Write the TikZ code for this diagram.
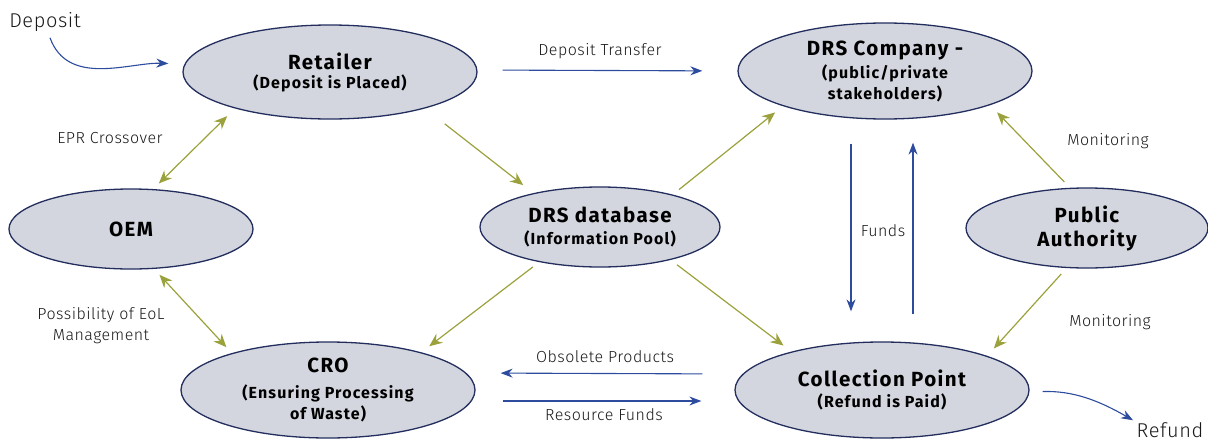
\documentclass[tikz,border=0pt]{standalone}
\usepackage{fontspec}
\setmainfont{Fira Sans}
\IfFontExistsTF{Fira Sans Light}
  {\newfontfamily\lightfont{Fira Sans Light}[LetterSpace=3]}
  {\newfontfamily\lightfont{Fira Sans}[LetterSpace=3]}
\newfontfamily\subfont{Fira Sans}[LetterSpace=7]
\usetikzlibrary{arrows.meta,shapes.geometric}
\definecolor{ellfill}{HTML}{D3D6DE}
\definecolor{ellline}{HTML}{232E5E}
\definecolor{flowblue}{HTML}{2D4C9E}
\definecolor{flowolive}{HTML}{9BA23C}
\newcommand{\bigt}{\fontsize{20.5}{24}\selectfont\bfseries}
\tikzset{
  actor/.style={ellipse, draw=ellline, fill=ellfill, line width=1.3pt, inner sep=0pt,
    align=center, text=black, font=\subfont\fontsize{16}{21}\selectfont\bfseries},
  lbl/.style={font=\lightfont\fontsize{16}{21}\selectfont, text=black!90, align=center, inner sep=0pt},
  bluearrow/.style={draw=flowblue, line width=1.1pt, -{Stealth[length=12pt,width=9pt]}},
  olivearrow/.style={draw=flowolive, line width=1.2pt, -{Stealth[length=13pt,width=11pt]}},
  olivetwo/.style={draw=flowolive, line width=1.2pt, {Stealth[length=13pt,width=11pt]}-{Stealth[length=13pt,width=11pt]}},
}
\begin{document}
\begin{tikzpicture}[x=1pt,y=-1pt]
\useasboundingbox (0,0) rectangle (1208,442);

% actors
\node[actor, minimum width=294pt, minimum height=94pt] (ret) at (330,72)
  {{\bigt Retailer}\\[-2pt](Deposit is Placed)};
\node[actor, minimum width=294pt, minimum height=96pt] (drs) at (885,71)
  {{\bigt DRS Company -}\\[2pt](public/private\\stakeholders)};
\node[actor, minimum width=244pt, minimum height=80pt] (oem) at (131,229)
  {\bigt OEM};
\node[actor, minimum width=240pt, minimum height=80pt] (db) at (600,227)
  {{\bigt DRS database}\\[1pt](Information Pool)};
\node[actor, minimum width=242pt, minimum height=80pt] (pa) at (1087,228)
  {{\bigt Public}\\[3pt]{\bigt Authority}};
\node[actor, minimum width=294pt, minimum height=96pt] (cro) at (328,390)
  {{\bigt CRO}\\[5pt](Ensuring Processing\\of Waste)};
\node[actor, minimum width=294pt, minimum height=96pt] (cp) at (882,390)
  {{\bigt Collection Point}\\[0pt](Refund is Paid)};

% free labels
\node[lbl, font=\lightfont\fontsize{20}{24}\selectfont] (deposit) at (45,22) {Deposit};
\node[lbl, font=\lightfont\fontsize{20}{24}\selectfont] (refund) at (1170,430) {Refund};
\node[lbl] (ltransfer) at (600,51) {Deposit Transfer};
\node[lbl] (lepr) at (110,138) {EPR Crossover};
\node[lbl] (leol) at (101,326) {Possibility of EoL\\Management};
\node[lbl] (lfunds) at (883,231) {Funds};
\node[lbl] (lmon1) at (1108,141) {Monitoring};
\node[lbl] (lmon2) at (1110,322) {Monitoring};
\node[lbl] (lobs) at (605,357) {Obsolete Products};
\node[lbl] (lres) at (604,415) {Resource Funds};

% money and goods flows
\coordinate (dstart) at ([xshift=5pt,yshift=-6pt]deposit.south);
\draw[bluearrow, shorten >=14pt] (dstart) to[out=-70,in=178] ([yshift=8pt]ret.west);
\draw[bluearrow, shorten <=25pt, shorten >=35pt] ([yshift=2pt]ret.east) -- (drs.west);
\draw[bluearrow] ([xshift=-34pt,yshift=-24pt]drs.south) -- ([xshift=-31pt,yshift=30pt]cp.north);
\draw[bluearrow] ([xshift=31pt,yshift=27pt]cp.north) -- ([xshift=28pt,yshift=-23pt]drs.south);
\draw[bluearrow, shorten <=32pt, shorten >=25pt] ([yshift=16pt]cp.west) -- ([yshift=17pt]cro.east);
\draw[bluearrow, shorten <=27pt, shorten >=33pt] ([yshift=-11pt]cro.east) -- ([yshift=-11pt]cp.west);
\draw[bluearrow, shorten <=13pt, shorten >=4pt] ([yshift=-2pt]cp.east) to[out=2,in=150] (refund.north west);

% information and control flows
\draw[olivetwo, shorten <=8pt, shorten >=11pt] (oem.61.5) -- (ret.201);
\draw[olivetwo, shorten <=8pt, shorten >=8pt] (oem.-60) -- (cro.159);
\draw[olivearrow, shorten <=25pt, shorten >=13pt] (ret.-21) -- (db.153);
\draw[olivearrow, shorten <=8pt, shorten >=10pt] (db.24) -- (drs.199.4);
\draw[olivearrow, shorten <=8pt, shorten >=10pt] (db.210.6) -- (cro.22.4);
\draw[olivearrow, shorten <=8pt, shorten >=10pt] (db.-25.8) -- (cp.157.9);
\draw[olivearrow, shorten <=8pt, shorten >=10pt] (pa.113) -- (drs.-18.3);
\draw[olivearrow, shorten <=8pt, shorten >=10pt] (pa.243.4) -- (cp.18.6);
\end{tikzpicture}
\end{document}
